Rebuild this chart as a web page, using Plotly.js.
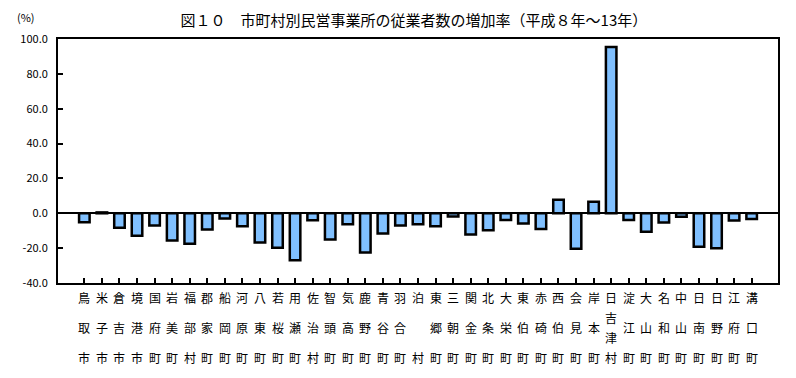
<!DOCTYPE html>
<html><head><meta charset="utf-8">
<script src="https://cdn.plot.ly/plotly-3.0.1.min.js"></script>
<style>body{margin:0;background:#fff}#c{width:796px;height:378px}</style>
</head><body><div id="c"></div>
<script>
const categories = ["鳥取市","米子市","倉吉市","境港市","国府町","岩美町","福部村","郡家町","船岡町","河原町","八東町","若桜町","用瀬町","佐治村","智頭町","気高町","鹿野町","青谷町","羽合町","泊村","東郷町","三朝町","関金町","北条町","大栄町","東伯町","赤碕町","西伯町","会見町","岸本町","日吉津村","淀江町","大山町","名和町","中山町","日南町","日野町","江府町","溝口町"];
const growthRate = [-5.2,0.5,-8.3,-12.9,-7.0,-15.6,-17.5,-9.3,-3.0,-7.5,-16.8,-19.8,-27.0,-4.0,-15.0,-6.3,-22.5,-11.6,-7.0,-6.3,-7.5,-1.8,-12.2,-9.7,-3.8,-5.9,-9.0,7.8,-20.3,6.6,95.4,-3.8,-10.6,-5.3,-2.0,-19.2,-20.0,-4.2,-3.3];
const yTickVals = [-40,-20,0,20,40,60,80,100];
const yTickText = ["-40.0","-20.0","0.0","20.0","40.0","60.0","80.0","100.0"];

const idx = categories.map((_, i) => i);
const font = "'Noto Sans CJK JP', sans-serif";

const annotations = [];
categories.forEach((name, i) => {
  const chars = Array.from(name);
  let shifts;
  if (chars.length === 3) shifts = [-14, -44, -74];
  else if (chars.length === 2) shifts = [-14, -74];
  else shifts = [-14, -34, -54, -74];
  chars.forEach((ch, j) => {
    annotations.push({x: i, xref: 'x', y: 0, yref: 'paper', yshift: shifts[j], text: ch,
      showarrow: false, xanchor: 'center', yanchor: 'middle', font: {family: font, size: 12, color: '#000'}});
  });
});
annotations.push({x: -0.045, xref: 'paper', y: 1, yref: 'paper', yshift: 22, text: '(%)', showarrow: false,
  xanchor: 'center', yanchor: 'middle', font: {family: font, size: 11, color: '#000'}});

Plotly.newPlot('c', [{
  type: 'bar', x: idx, y: growthRate, width: 0.6,
  marker: {color: '#80C0FF', line: {color: '#000', width: 2.5}},
  hoverinfo: 'none'
}], {
  width: 796, height: 378,
  margin: {l: 58, r: 18, t: 39, b: 95},
  paper_bgcolor: '#fff', plot_bgcolor: '#fff',
  showlegend: false,
  title: {text: '図１０　市町村別民営事業所の従業者数の増加率（平成８年～13年）', x: 0.52, xanchor: 'center', y: 0.945, yanchor: 'middle',
    font: {family: font, size: 15, color: '#000'}},
  xaxis: {range: [-1.5, 39.5], tickvals: idx, ticktext: idx.map(() => ''), ticks: 'inside', ticklen: 5, tickwidth: 2, tickcolor: '#000',
    showline: true, linecolor: '#000', linewidth: 2, mirror: true, showgrid: false, zeroline: false, fixedrange: true},
  yaxis: {range: [-40, 100], tickvals: yTickVals, ticktext: yTickText, ticks: 'inside', ticklen: 5, tickwidth: 2, tickcolor: '#000',
    showline: true, linecolor: '#000', linewidth: 2, mirror: true, showgrid: false, zeroline: true, zerolinecolor: '#000', zerolinewidth: 2,
    ticklabelstandoff: 6, tickfont: {family: font, size: 11, color: '#000'}, fixedrange: true},
  annotations: annotations
}, {displayModeBar: false, staticPlot: true});
</script></body></html>
